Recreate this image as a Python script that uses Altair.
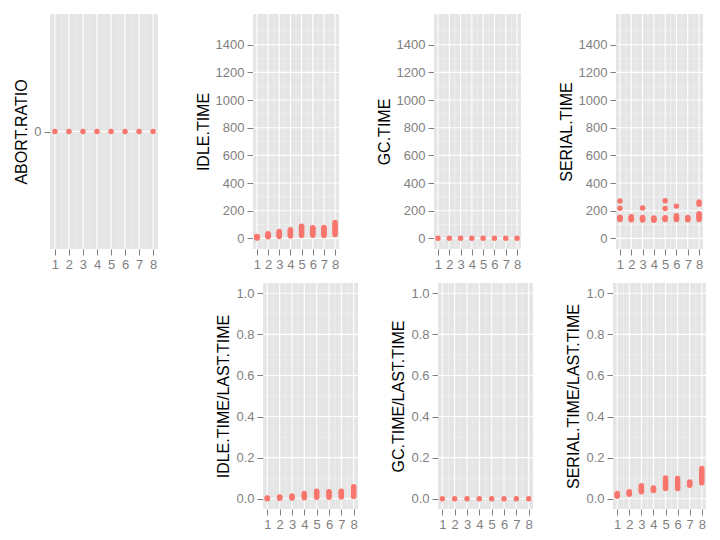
import altair as alt
import pandas as pd

# ---------------- data ----------------
RUNS = [1, 2, 3, 4, 5, 6, 7, 8]
X_TICKS = [1, 2, 3, 4, 5, 6, 7, 8]
X_MINOR = [1.5, 2.5, 3.5, 4.5, 5.5, 6.5, 7.5]
TIME_TICKS = [0, 200, 400, 600, 800, 1000, 1200, 1400]
TIME_MINOR = [100, 300, 500, 700, 900, 1100, 1300, 1500]
RATIO_TICKS = [0.0, 0.2, 0.4, 0.6, 0.8, 1.0]
RATIO_MINOR = [0.1, 0.3, 0.5, 0.7, 0.9]
ABORT_TICKS = [0]

abort_ratio = [[0], [0], [0], [0], [0], [0], [0], [0]]
idle_time = [
    [2, 5, 7, 9, 12, 14],
    [11, 15, 19, 23, 28, 33],
    [13, 19, 25, 31, 38, 44, 49],
    [17, 25, 32, 40, 48, 56, 63],
    [21, 30, 41, 52, 62, 73, 82, 88],
    [22, 31, 40, 49, 58, 67, 74, 77],
    [21, 30, 39, 48, 57, 66, 74, 79],
    [28, 41, 55, 68, 80, 93, 104, 114],
]
gc_time = [[0], [0], [0], [0], [0], [0], [0], [0]]
serial_time = [
    [136, 141, 147, 152, 218, 270],
    [134, 139, 145, 151, 157],
    [133, 139, 145, 151, 220],
    [131, 136, 142, 148],
    [137, 143, 149, 215, 272],
    [137, 143, 150, 157, 163, 233],
    [134, 140, 146, 151],
    [137, 147, 157, 167, 178, 246, 262],
]
idle_ratio = [
    [0.0, 0.002, 0.004],
    [0.002, 0.005, 0.008],
    [0.003, 0.008, 0.013],
    [0.005, 0.011, 0.018, 0.025],
    [0.007, 0.014, 0.022, 0.029, 0.036],
    [0.007, 0.014, 0.022, 0.030, 0.034],
    [0.009, 0.016, 0.024, 0.031, 0.037],
    [0.011, 0.021, 0.031, 0.041, 0.051, 0.058],
]
gc_ratio = [[0], [0], [0], [0], [0], [0], [0], [0]]
serial_ratio = [
    [0.012, 0.016, 0.020, 0.025],
    [0.022, 0.026, 0.030, 0.034],
    [0.034, 0.040, 0.046, 0.053, 0.058, 0.063],
    [0.040, 0.044, 0.048, 0.052],
    [0.050, 0.057, 0.065, 0.074, 0.082, 0.091, 0.101],
    [0.050, 0.057, 0.066, 0.075, 0.086, 0.099],
    [0.066, 0.071, 0.076, 0.081],
    [0.078, 0.089, 0.099, 0.108, 0.118, 0.128, 0.139, 0.147],
]

# ---------------- styling ----------------
FONT = "Liberation Sans"
GREY = "#7F7F7F"
POINT = "#F8766D"
MINOR = "#F2F2F2"
X_DOMAIN = [0.65, 8.35]
TIME_DOMAIN = [-77, 1622]
RATIO_DOMAIN = [-0.05, 1.05]
ABORT_DOMAIN = [-1, 1]


def to_df(groups):
    rows = [{"x": RUNS[i], "y": v} for i, vals in enumerate(groups) for v in vals]
    return pd.DataFrame(rows)


def panel(groups, title, ydom, yticks, yminor, fmt, w, h):
    xs = alt.Scale(domain=X_DOMAIN, nice=False, zero=False)
    ys = alt.Scale(domain=ydom, nice=False, zero=False)
    xaxis = alt.Axis(values=X_TICKS, format="d", title=None, grid=False)
    yaxis = alt.Axis(values=yticks, format=fmt, title=title, grid=False)
    pts = (
        alt.Chart(to_df(groups))
        .mark_circle(size=30, color=POINT, opacity=1)
        .encode(
            x=alt.X("x:Q", scale=xs, axis=xaxis),
            y=alt.Y("y:Q", scale=ys, axis=yaxis),
        )
    )
    layers = []
    if yminor:
        layers.append(
            alt.Chart(pd.DataFrame({"v": yminor}))
            .mark_rule(color=MINOR, strokeWidth=0.6)
            .encode(y=alt.Y("v:Q", scale=ys, axis=yaxis))
        )
    layers.append(
        alt.Chart(pd.DataFrame({"v": X_MINOR}))
        .mark_rule(color=MINOR, strokeWidth=0.6)
        .encode(x=alt.X("v:Q", scale=xs, axis=xaxis))
    )
    layers.append(
        alt.Chart(pd.DataFrame({"v": yticks}))
        .mark_rule(color="white", strokeWidth=1.1)
        .encode(y=alt.Y("v:Q", scale=ys, axis=yaxis))
    )
    layers.append(
        alt.Chart(pd.DataFrame({"v": X_TICKS}))
        .mark_rule(color="white", strokeWidth=1.1)
        .encode(x=alt.X("v:Q", scale=xs, axis=xaxis))
    )
    layers.append(pts)
    return alt.layer(*layers).properties(width=w, height=h)


TOP_H = 235
BOT_H = 226

p1 = panel(abort_ratio, "ABORT.RATIO", ABORT_DOMAIN, ABORT_TICKS, None, "d", 108, TOP_H)
p2 = panel(idle_time, "IDLE.TIME", TIME_DOMAIN, TIME_TICKS, TIME_MINOR, "d", 86, TOP_H)
p3 = panel(gc_time, "GC.TIME", TIME_DOMAIN, TIME_TICKS, TIME_MINOR, "d", 87, TOP_H)
p4 = panel(serial_time, "SERIAL.TIME", TIME_DOMAIN, TIME_TICKS, TIME_MINOR, "d", 87, TOP_H)

spacer = (
    alt.Chart(pd.DataFrame({"v": [0]}))
    .mark_point(opacity=0)
    .encode(x=alt.X("v:Q", axis=None), y=alt.Y("v:Q", axis=None))
    .properties(width=133, height=BOT_H,
                view=alt.ViewBackground(fill="white", strokeWidth=0))
)
q1 = panel(idle_ratio, "IDLE.TIME/LAST.TIME", RATIO_DOMAIN, RATIO_TICKS, RATIO_MINOR, ".1f", 95, BOT_H)
q2 = panel(gc_ratio, "GC.TIME/LAST.TIME", RATIO_DOMAIN, RATIO_TICKS, RATIO_MINOR, ".1f", 95, BOT_H)
q3 = panel(serial_ratio, "SERIAL.TIME/LAST.TIME", RATIO_DOMAIN, RATIO_TICKS, RATIO_MINOR, ".1f", 93, BOT_H)

top = alt.hconcat(p1, p2, p3, p4, spacing=95, bounds="flush")
bottom = alt.hconcat(spacer, q1, q2, q3, spacing=80, bounds="flush")

chart = (
    alt.vconcat(top, bottom, spacing=11)
    .properties(padding={"left": 5, "top": 5, "right": 2, "bottom": 0})
    .configure_view(fill="#E5E5E5", strokeWidth=0)
    .configure_axis(
        labelFont=FONT, labelFontSize=13, labelColor=GREY,
        tickColor=GREY, tickSize=6, tickWidth=1,
        domain=False, labelPadding=3,
        titleFont=FONT, titleFontSize=16, titleFontWeight="normal",
        titleColor="black", titlePadding=4,
    )
)

chart.save("out.html", embed_options={"renderer": "svg", "actions": False})
